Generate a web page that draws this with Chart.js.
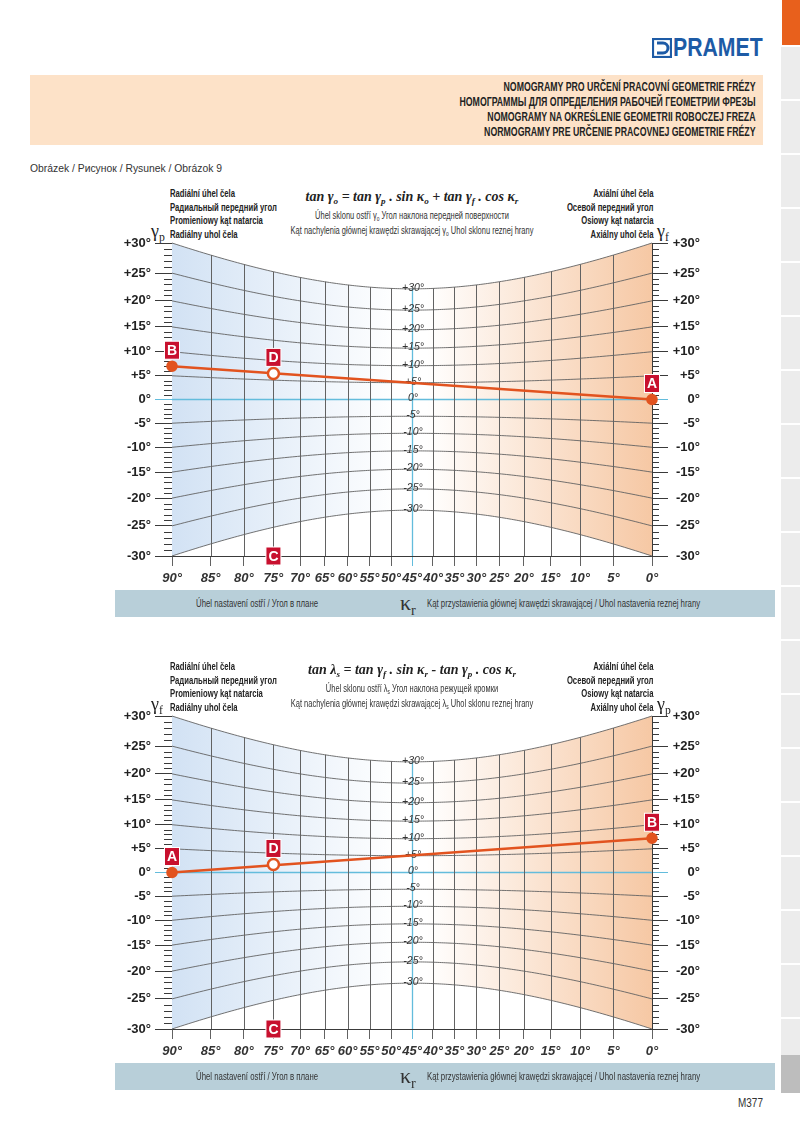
<!DOCTYPE html>
<html>
<head>
<meta charset="utf-8">
<title>Nomogramy</title>
<script src="https://cdn.jsdelivr.net/npm/chart.js@4.4.1/dist/chart.umd.min.js"></script>
<style>
  body { margin: 0; background: #fff; }
  #page { position: relative; width: 800px; height: 1132px; overflow: hidden;
    font-family: 'Liberation Sans', Arial, sans-serif; color: #222; }
  .a { position: absolute; white-space: nowrap; }
  .nomo { position: absolute; left: 0; width: 800px; height: 473px; }
  .hdr { font-weight: bold; font-size: 10px; line-height: 13.7px; transform: scaleX(0.77); }
  .hl { transform-origin: left center; }
  .hr { transform-origin: right center; }
  .sub { font-size: 10px; line-height: 14px; color: #333; text-align: center; width: 400px; left: 212px;
    transform: scaleX(0.75); transform-origin: center; }
  .formula { font-family: 'Liberation Serif', serif; font-weight: bold; font-style: italic; font-size: 14px;
    line-height: 16px; text-align: center; width: 400px; left: 212px; top: 189px; }
  .sym { font-family: 'Liberation Serif', serif; font-size: 18px; line-height: 18px; }
  sub { font-size: 65%; vertical-align: -0.35em; line-height: 0; }
  .bar { left: 115px; top: 590px; width: 660px; height: 27px; background: #b8cfd9; }
  .bartxt { font-size: 10px; line-height: 27px; color: #333; top: 0; transform: scaleX(0.78); transform-origin: left center; }
  .kap { font-family: 'Liberation Serif', serif; font-size: 22px; line-height: 22px; top: 2px; left: 285px; color: #333; }
  .banner { left: 30px; top: 75px; width: 733px; height: 70px; background: #fde2c8; }
  .banner div { position: absolute; right: 8px; top: 5px; text-align: right; font-weight: bold; font-size: 12px;
    line-height: 15px; color: #222; white-space: nowrap; transform: scaleX(0.73); transform-origin: right top; }
  .tabs { left: 781px; top: 47px; width: 19px; height: 1008px;
    background: repeating-linear-gradient(to bottom, #ececec 0 52px, #fff 52px 54px); }
</style>
</head>
<body>
<div id="page">
  <div class="a" style="left:782px;top:0;width:18px;height:45px;background:#e8601c"></div>
  <div class="a tabs"></div>
  <div class="a" style="left:781px;top:1055px;width:19px;height:38px;background:#bdbdbd"></div>

  <svg class="a" style="left:652px;top:38px" width="20" height="20" viewBox="0 0 20 20">
    <rect x="1" y="1" width="18" height="18" fill="none" stroke="#1d5ba6" stroke-width="2.2"/>
    <path d="M5 5 H11 A5 5 0 0 1 11 15 H5" fill="none" stroke="#1d5ba6" stroke-width="3"/>
  </svg>
  <div class="a" style="left:673px;top:32px;font-weight:bold;font-size:25px;line-height:30px;color:#1d5ba6;transform:scaleX(0.85);transform-origin:left center">PRAMET</div>

  <div class="a banner"><div>NOMOGRAMY PRO URČENÍ PRACOVNÍ GEOMETRIE FRÉZY<br>НОМОГРАММЫ ДЛЯ ОПРЕДЕЛЕНИЯ РАБОЧЕЙ ГЕОМЕТРИИ ФРЕЗЫ<br>NOMOGRAMY NA OKREŚLENIE GEOMETRII ROBOCZEJ FREZA<br>NORMOGRAMY PRE URČENIE PRACOVNEJ GEOMETRIE FRÉZY</div></div>

  <div class="a" style="left:30px;top:160px;font-size:11.5px;line-height:16px;color:#333;transform:scaleX(0.9);transform-origin:left center">Obrázek / Рисунок / Rysunek / Obrázok 9</div>

  <!-- nomogram 1 -->
  <div class="nomo" style="top:0">
    <div class="a hdr hl" style="left:170px;top:187px">Radiální úhel čela<br>Радиальный передний угол<br>Promieniowy kąt natarcia<br>Radiálny uhol čela</div>
    <div class="a hdr hr" style="right:147px;top:187px;text-align:right">Axiální úhel čela<br>Осевой передний угол<br>Osiowy kąt natarcia<br>Axiálny uhol čela</div>
    <div class="a sym" style="left:151px;top:222px">γ<sub>p</sub></div>
    <div class="a sym" style="left:657px;top:222px">γ<sub>f</sub></div>
    <div class="a formula">tan γ<sub>o</sub> = tan γ<sub>p</sub> . sin κ<sub>o</sub> + tan γ<sub>f</sub> . cos κ<sub>r</sub></div>
    <div class="a sub" style="top:209px">Úhel sklonu ostří γ<sub>o</sub> Угол наклона передней поверхности</div>
    <div class="a sub" style="top:224px">Kąt nachylenia głównej krawędzi skrawającej γ<sub>o</sub> Uhol sklonu reznej hrany</div>
    <canvas id="c1" class="a" width="800" height="360" style="left:0;top:230px"></canvas>
    <div class="a bar">
      <div class="a bartxt" style="left:81px">Úhel nastavení ostří / Угол в плане</div>
      <div class="a kap">κ<sub>r</sub></div>
      <div class="a bartxt" style="left:312px">Kąt przystawienia głównej krawędzi skrawającej / Uhol nastavenia reznej hrany</div>
    </div>
  </div>

  <!-- nomogram 2 -->
  <div class="nomo" style="top:473px">
    <div class="a hdr hl" style="left:170px;top:187px">Radiální úhel čela<br>Радиальный передний угол<br>Promieniowy kąt natarcia<br>Radiálny uhol čela</div>
    <div class="a hdr hr" style="right:147px;top:187px;text-align:right">Axiální úhel čela<br>Осевой передний угол<br>Osiowy kąt natarcia<br>Axiálny uhol čela</div>
    <div class="a sym" style="left:151px;top:222px">γ<sub>f</sub></div>
    <div class="a sym" style="left:657px;top:222px">γ<sub>p</sub></div>
    <div class="a formula">tan λ<sub>s</sub> = tan γ<sub>f</sub> . sin κ<sub>r</sub> - tan γ<sub>p</sub> . cos κ<sub>r</sub></div>
    <div class="a sub" style="top:209px">Úhel sklonu ostří λ<sub>s</sub> Угол наклона режущей кромки</div>
    <div class="a sub" style="top:224px">Kąt nachylenia głównej krawędzi skrawającej λ<sub>s</sub> Uhol sklonu reznej hrany</div>
    <canvas id="c2" class="a" width="800" height="360" style="left:0;top:230px"></canvas>
    <div class="a bar">
      <div class="a bartxt" style="left:81px">Úhel nastavení ostří / Угол в плане</div>
      <div class="a kap">κ<sub>r</sub></div>
      <div class="a bartxt" style="left:312px">Kąt przystawienia głównej krawędzi skrawającej / Uhol nastavenia reznej hrany</div>
    </div>
  </div>

  <div class="a" style="left:738px;top:1096px;font-size:12px;line-height:14px;color:#333;transform:scaleX(0.83);transform-origin:left center">M377</div>
</div>

<script>
// kappa r tick angles (left axis = 90°, right axis = 0°)
const kappaTicks = [90, 85, 80, 75, 70, 65, 60, 55, 50, 45, 40, 35, 30, 25, 20, 15, 10, 5, 0]
// rake angle ticks on side axes and inner scale
const gammaTicks = [30, 25, 20, 15, 10, 5, 0, -5, -10, -15, -20, -25, -30]

// nomogram 1: B on radial axis, A on axial axis, D read at kappa 75
const nomo1Line = [{ x: 90, y: 7 }, { x: 0, y: 0 }]
const nomo1Letters = ['B', 'A']
const nomo1D = [{ x: 75, y: 5.5 }]
// nomogram 2: A on axial axis, B on radial axis
const nomo2Line = [{ x: 90, y: 0 }, { x: 0, y: 7.2 }]
const nomo2Letters = ['A', 'B']
const nomo2D = [{ x: 75, y: 1.7 }]
// C marks the kappa value on the bottom axis
const pointC = [{ x: 75, y: -30 }]

const ORANGE = '#e2531f'
const GRID = '#626262'
const AXIS = '#3a3a3a'
const CYAN = '#63bcdc'
const TAG = '#c8102e'
const RAD = Math.PI / 180

// kappa axis of the nomogram: position = cos k / (sin k + cos k)
class KappaScale extends Chart.LinearScale {
  getPixelForValue(v) {
    const a = v * RAD
    return this.getPixelForDecimal(Math.cos(a) / (Math.sin(a) + Math.cos(a)))
  }
  getValueForPixel(p) {
    const d = this.getDecimalForPixel(p)
    return Math.atan2(1 - d, d) / RAD
  }
}
KappaScale.id = 'kappa'
KappaScale.defaults = {}

// angle axis that is linear in tan
class TanScale extends Chart.LinearScale {
  getPixelForValue(v) {
    const t0 = Math.tan(this.min * RAD)
    const t1 = Math.tan(this.max * RAD)
    return this.getPixelForDecimal((Math.tan(v * RAD) - t0) / (t1 - t0))
  }
  getValueForPixel(p) {
    const t0 = Math.tan(this.min * RAD)
    const t1 = Math.tan(this.max * RAD)
    return Math.atan(t0 + this.getDecimalForPixel(p) * (t1 - t0)) / RAD
  }
}
TanScale.id = 'tangent'
TanScale.defaults = {}

Chart.register(KappaScale, TanScale)

const nomoGrid = {
  id: 'nomoGrid',
  beforeDatasetsDraw(chart) {
    const { ctx, chartArea: area } = chart
    const xs = chart.scales.x
    const ys = chart.scales.y
    const y0 = ys.getPixelForValue(0)
    const curveY = (k, g) => y0 + (ys.getPixelForValue(g) - y0) / (Math.sin(k * RAD) + Math.cos(k * RAD))
    const top = gammaTicks[0]
    const bottom = gammaTicks[gammaTicks.length - 1]
    const curve = (g, from, to) => {
      const step = from > to ? -0.5 : 0.5
      for (let k = from; step < 0 ? k >= to : k <= to; k += step) {
        ctx.lineTo(xs.getPixelForValue(k), curveY(k, g))
      }
    }
    ctx.save()

    // shaded field between the outer curves
    const grad = ctx.createLinearGradient(area.left, 0, area.right, 0)
    grad.addColorStop(0, '#d2e2f4')
    grad.addColorStop(0.47, '#ffffff')
    grad.addColorStop(0.53, '#ffffff')
    grad.addColorStop(1, '#f6c8a4')
    ctx.beginPath()
    curve(top, 90, 0)
    curve(bottom, 0, 90)
    ctx.closePath()
    ctx.fillStyle = grad
    ctx.fill()

    // curves of constant result angle
    gammaTicks.forEach((g) => {
      ctx.beginPath()
      curve(g, 90, 0)
      ctx.strokeStyle = g === 0 ? CYAN : GRID
      ctx.lineWidth = g === 0 ? 1.3 : 0.9
      ctx.stroke()
    })

    // kappa lines
    kappaTicks.forEach((k) => {
      if (k === 0 || k === 90) return
      const px = Math.round(xs.getPixelForValue(k)) + 0.5
      ctx.beginPath()
      ctx.moveTo(px, curveY(k, top))
      ctx.lineTo(px, area.bottom)
      ctx.strokeStyle = k === 45 ? CYAN : GRID
      ctx.lineWidth = k === 45 ? 1.3 : 1
      ctx.stroke()
    })

    // one degree ticks on the side axes
    ctx.strokeStyle = AXIS
    ctx.lineWidth = 1
    for (let g = bottom; g <= top; g++) {
      if (g % 5 === 0) continue
      const py = Math.round(ys.getPixelForValue(g)) + 0.5
      ctx.beginPath()
      ctx.moveTo(area.left - 8, py)
      ctx.lineTo(area.left, py)
      ctx.moveTo(area.right, py)
      ctx.lineTo(area.right + 7, py)
      ctx.stroke()
    }

    // inner scale labels along kappa 45
    ctx.font = 'italic 10.5px "Liberation Sans", Arial, sans-serif'
    ctx.fillStyle = '#333'
    ctx.textAlign = 'center'
    ctx.textBaseline = 'middle'
    const xc = xs.getPixelForValue(45)
    gammaTicks.forEach((g) => {
      ctx.fillText((g > 0 ? '+' : '') + g + '°', xc + 1, curveY(45, g) - 1)
    })
    ctx.restore()
  },
  afterDatasetsDraw(chart) {
    const { ctx } = chart
    const xs = chart.scales.x
    const ys = chart.scales.y
    const tag = (letter, cx, cy) => {
      ctx.fillStyle = TAG
      ctx.fillRect(cx - 7.5, cy - 9, 15, 18)
      ctx.strokeStyle = '#fff'
      ctx.lineWidth = 1
      ctx.strokeRect(cx - 7.5, cy - 9, 15, 18)
      ctx.fillStyle = '#fff'
      ctx.font = 'bold 14px "Liberation Sans", Arial, sans-serif'
      ctx.textAlign = 'center'
      ctx.textBaseline = 'middle'
      ctx.fillText(letter, cx, cy + 1)
    }
    ctx.save()
    chart.data.datasets.forEach((ds, i) => {
      chart.getDatasetMeta(i).data.forEach((pt, j) => tag(ds.letters[j], pt.x, pt.y - 16))
    })
    pointC.forEach((p) => tag('C', xs.getPixelForValue(p.x), ys.getPixelForValue(p.y)))
    ctx.restore()
  },
}

function yAxis(position, width, tickLen) {
  return {
    type: 'tangent',
    position: position,
    min: -30,
    max: 30,
    afterBuildTicks: (s) => { s.ticks = gammaTicks.map((v) => ({ value: v })) },
    afterFit: (s) => { s.width = width },
    grid: {
      drawOnChartArea: false,
      tickLength: tickLen,
      color: (c) => (c.tick && c.tick.value === 0 ? CYAN : AXIS),
    },
    border: { color: AXIS, width: 1 },
    ticks: {
      autoSkip: false,
      padding: 4,
      crossAlign: position === 'left' ? 'near' : 'far',
      color: '#222',
      font: { family: '"Liberation Sans", Arial, sans-serif', size: 13, weight: 'bold' },
      callback: (v) => (v > 0 ? '+' : '') + v + '°',
    },
  }
}

function makeNomo(id, line, letters, dPoint) {
  return new Chart(document.getElementById(id), {
    type: 'scatter',
    data: {
      datasets: [
        {
          data: dPoint,
          letters: ['D'],
          pointRadius: 5.5,
          pointBackgroundColor: '#fff',
          pointBorderColor: ORANGE,
          pointBorderWidth: 2.5,
          clip: false,
        },
        {
          data: line,
          letters: letters,
          showLine: true,
          borderColor: ORANGE,
          borderWidth: 2.6,
          pointRadius: 4.5,
          pointBackgroundColor: ORANGE,
          pointBorderColor: ORANGE,
          clip: false,
        },
      ],
    },
    options: {
      responsive: false,
      animation: false,
      devicePixelRatio: 1,
      events: [],
      layout: { padding: { top: 13, left: 0, right: 100, bottom: 0 } },
      plugins: { legend: { display: false }, tooltip: { enabled: false } },
      scales: {
        x: {
          type: 'kappa',
          min: 0,
          max: 90,
          afterBuildTicks: (s) => { s.ticks = kappaTicks.map((v) => ({ value: v })) },
          afterFit: (s) => { s.height = 34 },
          grid: {
            drawOnChartArea: false,
            tickLength: 10,
            color: (c) => (c.tick && c.tick.value === 45 ? CYAN : GRID),
          },
          border: { color: AXIS, width: 1 },
          ticks: {
            autoSkip: false,
            maxRotation: 0,
            minRotation: 0,
            padding: 5,
            color: '#333',
            font: { family: '"Liberation Sans", Arial, sans-serif', size: 13, weight: 'bold', style: 'italic' },
            callback: (v) => v + '°',
          },
        },
        y: yAxis('left', 172, 17),
        y2: yAxis('right', 48, 16),
      },
    },
    plugins: [nomoGrid],
  })
}

makeNomo('c1', nomo1Line, nomo1Letters, nomo1D)
makeNomo('c2', nomo2Line, nomo2Letters, nomo2D)
</script>
</body>
</html>
